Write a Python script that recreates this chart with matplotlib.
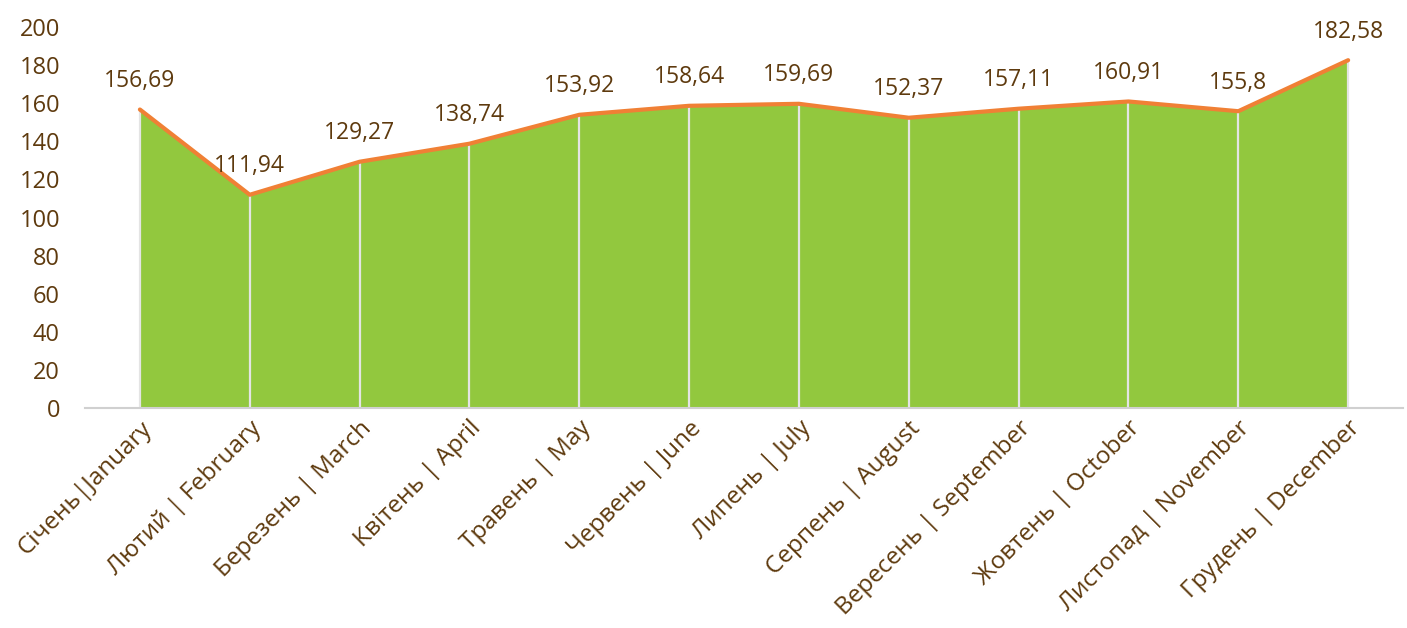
import matplotlib.pyplot as plt
import numpy as np

# --- Datos ---
months = ["Січень|January", "Лютий | February", "Березень | March", "Квітень | April",
          "Травень | May", "Червень | June", "Липень | July", "Серпень | August",
          "Вересень | September", "Жовтень | October", "Листопад | November",
          "Грудень | December"]
values = [156.69, 111.94, 129.27, 138.74, 153.92, 158.64, 159.69, 152.37,
          157.11, 160.91, 155.8, 182.58]
labels = ["156,69", "111,94", "129,27", "138,74", "153,92", "158,64", "159,69",
          "152,37", "157,11", "160,91", "155,8", "182,58"]

TEXT = "#5E3A0E"
GREEN = "#92C83E"
ORANGE = "#F08035"

plt.rcParams['font.family'] = ['Open Sans', 'DejaVu Sans']

fig = plt.figure(figsize=(14.07, 6.28), dpi=100)
ax = fig.add_axes([0.0604, 0.3503, 0.9368, 0.6067])

x = np.arange(len(values))
ax.fill_between(x, 0, values, color=GREEN, lw=0, zorder=1)
ax.vlines(x, 0, values, color="#E4E4E4", lw=1.6, zorder=2)
ax.plot(x, values, color=ORANGE, lw=3, solid_capstyle='round', zorder=3)

for xi, v, lab in zip(x, values, labels):
    ax.annotate(lab, (xi, v), xytext=(0, 12), textcoords='offset points',
                ha='center', va='bottom', fontsize=16.5, color=TEXT)

ax.set_xlim(-0.5, 11.5)
ax.set_ylim(0, 200)
ax.set_yticks(np.arange(0, 201, 20))
ax.set_xticks(x)
ax.set_xticklabels(months, rotation=45, ha='right', rotation_mode='anchor',
                   fontsize=17.5, color=TEXT)
ax.tick_params(axis='y', length=0, pad=18, labelsize=17, labelcolor=TEXT)
ax.tick_params(axis='x', length=0, pad=6)

for s in ['top', 'right', 'left']:
    ax.spines[s].set_visible(False)
ax.spines['bottom'].set_color("#D0D0D0")
ax.spines['bottom'].set_linewidth(1.5)

fig.savefig("out.png", dpi=100)
